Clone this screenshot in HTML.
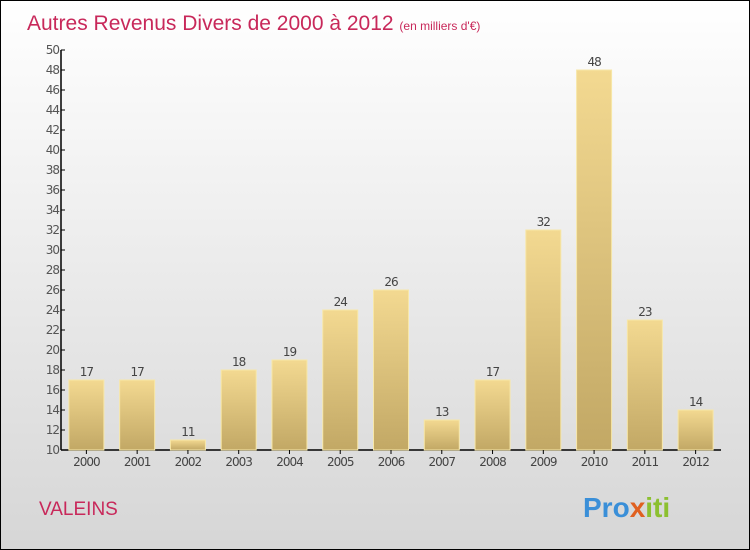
<!DOCTYPE html>
<html><head><meta charset="utf-8"><style>
body{margin:0}
#c{position:relative;width:748px;height:548px;border:1px solid #000;background:linear-gradient(#ffffff,#d6d6d6);overflow:hidden;font-family:"DejaVu Sans","Liberation Sans",sans-serif}
</style></head><body>
<div id="c">
<svg width="748" height="548" style="position:absolute;left:0;top:0">
<defs><linearGradient id="g" x1="0" y1="0" x2="0" y2="1"><stop offset="0" stop-color="#f3d991"/><stop offset="1" stop-color="#c2a865"/></linearGradient></defs>
<text x="26" y="29" font-size="21" fill="#c8285a" font-family="Liberation Sans, sans-serif">Autres Revenus Divers de 2000 à 2012 <tspan font-size="12">(en milliers d'€)</tspan></text>
<g id="plot"></g>
<text x="38" y="514" font-size="19" fill="#c8285a" font-family="Liberation Sans, sans-serif">VALEINS</text>
<text x="582" y="516" font-size="28" font-weight="bold" font-family="Liberation Sans, sans-serif"><tspan fill="#3a8fd8">Pro</tspan><tspan fill="#e06020">x</tspan><tspan fill="#8cc030">iti</tspan></text>
</svg>
</div>
<script>
const categories=["2000","2001","2002","2003","2004","2005","2006","2007","2008","2009","2010","2011","2012"];
const values=[17,17,11,18,19,24,26,13,17,32,48,23,14];
const yTicks=[10,12,14,16,18,20,22,24,26,28,30,32,34,36,38,40,42,44,46,48,50];
const NS="http://www.w3.org/2000/svg";
const g=document.getElementById('plot');
const x0=60,band=50.77,yMin=10,yMax=50,yTop=49,yBot=449;
const y=v=>yBot-(v-yMin)/(yMax-yMin)*(yBot-yTop);
const xc=i=>x0+band*(i+0.5);
function el(t,a,txt){const e=document.createElementNS(NS,t);for(const k in a)e.setAttribute(k,a[k]);if(txt!==undefined)e.textContent=txt;g.appendChild(e);return e;}
let ax=el('line',{x1:x0,y1:yTop,x2:x0,y2:yBot,stroke:'#000','stroke-width':1.5});


let bx=el('line',{x1:x0,y1:yBot,x2:x0+band*13,y2:yBot,stroke:'#000','stroke-width':1.5});


yTicks.forEach(t=>{
  let l=el('line',{x1:x0,y1:y(t),x2:x0+4,y2:y(t),stroke:'#000'});
  
  
  let tx=el('text',{x:x0-2,y:y(t)+4,'font-size':12,fill:'#555','text-anchor':'end','letter-spacing':'-1'},t);
  
  
});
categories.forEach((c,i)=>{
  const v=values[i],cx=xc(i);
  let r=el('rect',{x:cx-17.5,y:y(v),width:35,height:yBot-y(v),fill:'url(#g)',stroke:'#f7e7a8','stroke-width':1});
  
  
  let vt=el('text',{x:cx,y:y(v)-4,'font-size':12,fill:'#444','text-anchor':'middle','letter-spacing':'-1'},v);
  
  
  let tk=el('line',{x1:cx,y1:yBot,x2:cx,y2:yBot+4,stroke:'#000'});
  
  
  let xt=el('text',{x:cx,y:yBot+16,'font-size':12,fill:'#444','text-anchor':'middle','letter-spacing':'-1'},c);
  
  
});
</script>
</body></html>
